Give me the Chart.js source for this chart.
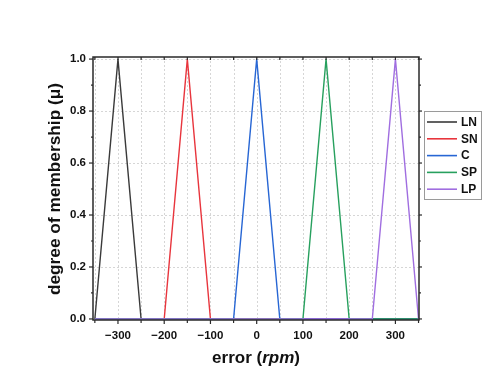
<!DOCTYPE html>
<html><head><meta charset="utf-8">
<script src="https://cdn.jsdelivr.net/npm/chart.js@4"></script>
<style>html,body{margin:0;padding:0;background:#fff;}#wrap{width:492px;height:390px;position:relative;}</style>
</head><body><div id="wrap"><canvas id="c" width="492" height="390"></canvas></div>
<script>
// ---- data ----
const seriesNames = ['LN', 'SN', 'C', 'SP', 'LP'];
const lnX = [-350, -300, -250, 350];        const lnY = [0, 1, 0, 0];
const snX = [-350, -200, -150, -100, 350];  const snY = [0, 0, 1, 0, 0];
const cX  = [-350, -50, 0, 50, 350];        const cY  = [0, 0, 1, 0, 0];
const spX = [-350, 100, 150, 200, 350];     const spY = [0, 0, 1, 0, 0];
const lpX = [-350, 250, 300, 350];          const lpY = [0, 0, 1, 0];
const xTicks = [-350, -300, -250, -200, -150, -100, -50, 0, 50, 100, 150, 200, 250, 300, 350];
const xLabelTicks = [-300, -200, -100, 0, 100, 200, 300];
const yTicks = [0, 0.2, 0.4, 0.6, 0.8, 1.0];
const yMinorTicks = [0.1, 0.3, 0.5, 0.7, 0.9];
const xTitleParts = ['error (', 'rpm', ')'];
const yTitle = 'degree of membership (\u03BC)';

const colors = ['#3a3a3a', '#e8353d', '#2766d4', '#27a05e', '#a06ee0'];
const FONT = "'Liberation Sans', Arial, sans-serif";

const xs = [lnX, snX, cX, spX, lpX];
const ys = [lnY, snY, cY, spY, lpY];
const datasets = seriesNames.map((n, i) => ({
  label: n,
  data: xs[i].map((x, k) => ({x: x, y: ys[i][k]})),
  borderColor: colors[i],
  backgroundColor: colors[i],
  borderWidth: 1.4,
  pointRadius: 0,
  showLine: true,
  fill: false,
  tension: 0,
  order: seriesNames.length - i,
  clip: 3
}));

const decor = {
  id: 'decor',
  beforeDatasetsDraw(chart) {
    const ctx = chart.ctx, a = chart.chartArea, sx = chart.scales.x, sy = chart.scales.y;
    ctx.save();
    ctx.strokeStyle = '#d6d6d6';
    ctx.lineWidth = 1;
    ctx.setLineDash([2, 2]);
    xTicks.forEach(v => {
      const p = Math.round(sx.getPixelForValue(v)) + 0.5;
      if (p <= a.left + 2 || p >= a.right - 2) return;
      ctx.beginPath(); ctx.moveTo(p, a.top); ctx.lineTo(p, a.bottom); ctx.stroke();
    });
    yTicks.forEach(v => {
      const p = Math.round(sy.getPixelForValue(v)) + 0.5;
      if (p <= a.top + 1 || p >= a.bottom - 2) return;
      ctx.beginPath(); ctx.moveTo(a.left, p); ctx.lineTo(a.right, p); ctx.stroke();
    });
    ctx.restore();
  },
  afterDatasetsDraw(chart) {
    const ctx = chart.ctx, a = chart.chartArea, sx = chart.scales.x, sy = chart.scales.y;
    ctx.save();
    ctx.strokeStyle = '#2a2a2a';
    ctx.lineWidth = 1.5;
    ctx.strokeRect(a.left, a.top, a.right - a.left, a.bottom - a.top);
    ctx.lineWidth = 1.2;
    // x ticks
    xTicks.forEach(v => {
      const p = sx.getPixelForValue(v);
      const len = xLabelTicks.includes(v) ? 4 : 3;
      ctx.beginPath(); ctx.moveTo(p, a.bottom); ctx.lineTo(p, a.bottom + len); ctx.stroke();
      ctx.beginPath(); ctx.moveTo(p, a.top); ctx.lineTo(p, a.top + 3); ctx.stroke();
    });
    // y ticks
    yTicks.forEach(v => {
      const p = sy.getPixelForValue(v);
      ctx.beginPath(); ctx.moveTo(a.left, p); ctx.lineTo(a.left - 4, p); ctx.stroke();
      ctx.beginPath(); ctx.moveTo(a.right, p); ctx.lineTo(a.right + 3, p); ctx.stroke();
    });
    yMinorTicks.forEach(v => {
      const p = sy.getPixelForValue(v);
      ctx.beginPath(); ctx.moveTo(a.left, p); ctx.lineTo(a.left - 2, p); ctx.stroke();
      ctx.beginPath(); ctx.moveTo(a.right, p); ctx.lineTo(a.right + 2, p); ctx.stroke();
    });

    // legend
    const lx = a.right + 5, ly = 111, lw = 57, lh = 88;
    ctx.lineWidth = 1;
    ctx.strokeStyle = '#9a9a9a';
    ctx.strokeRect(lx + 0.5, ly + 0.5, lw, lh);
    ctx.font = 'bold 12px ' + FONT;
    ctx.textBaseline = 'middle';
    ctx.textAlign = 'left';
    chart.data.datasets.forEach((d, i) => {
      const yy = ly + 11 + i * 16.8;
      ctx.strokeStyle = d.borderColor;
      ctx.lineWidth = 1.6;
      ctx.beginPath(); ctx.moveTo(lx + 3, yy); ctx.lineTo(lx + 33, yy); ctx.stroke();
      ctx.fillStyle = '#111';
      ctx.fillText(d.label, lx + 37, yy + 0.5);
    });

    // axis titles
    ctx.fillStyle = '#111';
    ctx.textBaseline = 'alphabetic';
    const fonts = ['bold 17px ' + FONT, 'italic bold 17px ' + FONT, 'bold 17px ' + FONT];
    let widths = xTitleParts.map((t, i) => { ctx.font = fonts[i]; return ctx.measureText(t).width; });
    const total = widths.reduce((s, w) => s + w, 0);
    let x0 = (a.left + a.right) / 2 - total / 2;
    xTitleParts.forEach((t, i) => { ctx.font = fonts[i]; ctx.fillText(t, x0, 363); x0 += widths[i]; });

    ctx.translate(60, 189);
    ctx.rotate(-Math.PI / 2);
    ctx.font = 'bold 17.3px ' + FONT;
    ctx.textAlign = 'center';
    ctx.fillText(yTitle, 0, 0);
    ctx.restore();
  }
};

new Chart(document.getElementById('c'), {
  type: 'scatter',
  data: { datasets: datasets },
  options: {
    responsive: false,
    devicePixelRatio: 1,
    animation: false,
    layout: { padding: { left: 0, top: 57, right: 73, bottom: 0 } },
    plugins: { legend: { display: false }, tooltip: { enabled: false } },
    scales: {
      x: {
        type: 'linear', min: -354, max: 351,
        grid: { display: false, drawTicks: false },
        border: { display: false },
        afterBuildTicks: s => { s.ticks = xTicks.map(v => ({value: v})); },
        afterFit: s => { s.height = 70; },
        ticks: {
          autoSkip: false, maxRotation: 0, padding: 9, color: '#111',
          font: { family: FONT, size: 11.5, weight: 'bold' },
          callback: v => xLabelTicks.includes(v) ? String(v).replace('-', '\u2212') : ''
        }
      },
      y: {
        type: 'linear', min: -0.004, max: 1.008,
        grid: { display: false, drawTicks: false },
        border: { display: false },
        afterBuildTicks: s => { s.ticks = yTicks.map(v => ({value: v})); },
        afterFit: s => { s.width = 93; },
        ticks: {
          padding: 7, color: '#111',
          font: { family: FONT, size: 11.5, weight: 'bold' },
          callback: v => Number(v).toFixed(1)
        }
      }
    }
  },
  plugins: [decor]
});
</script>
</body></html>
